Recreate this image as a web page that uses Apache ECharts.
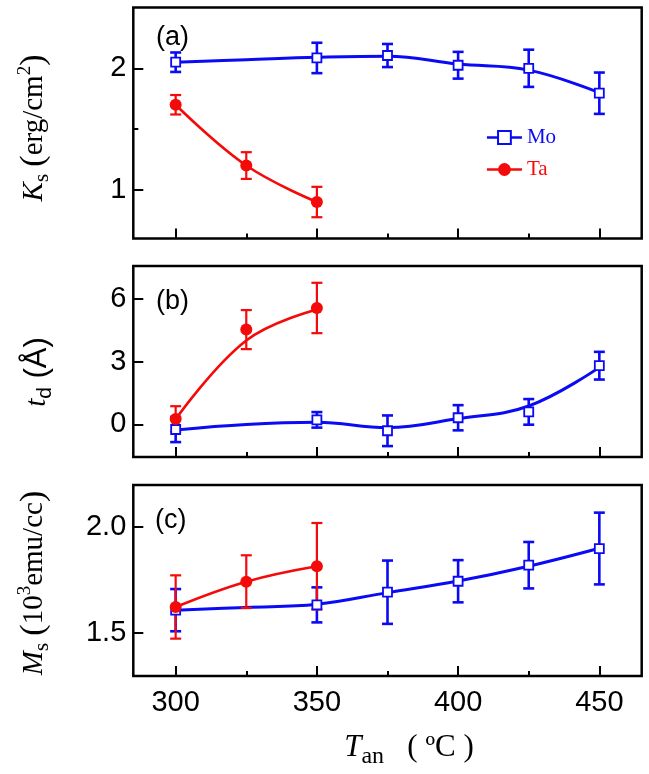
<!DOCTYPE html>
<html><head><meta charset="utf-8">
<script src="https://cdn.jsdelivr.net/npm/echarts@6/dist/echarts.min.js"></script>
<style>html,body{margin:0;padding:0;background:#fff}#c{width:649px;height:774px}</style>
</head><body><div id="c"></div>
<script>
// ---- data ----
const tempsMo = [300, 350, 375, 400, 425, 450];
const tempsTa = [300, 325, 350];
const fitTempsMo = [300, 325, 350, 375, 400, 425, 450];
const fitTempsTa = [300, 325, 350];

const ksMo = [2.05, 2.085, 2.105, 2.025, 2.0, 1.795];
const ksMoErr = [0.08, 0.125, 0.095, 0.11, 0.153, 0.17];
const ksTa = [1.70, 1.20, 0.90];
const ksTaErr = [0.08, 0.11, 0.125];

const tdMo = [-0.24, 0.22, -0.3, 0.32, 0.6, 2.8];
const tdMoErr = [0.6, 0.37, 0.73, 0.6, 0.61, 0.66];
const tdTa = [0.26, 4.52, 5.55];
const tdTaErr = [0.61, 0.93, 1.2];

const msMo = [1.607, 1.632, 1.692, 1.744, 1.82, 1.899];
const msMoErr = [0.1, 0.083, 0.15, 0.1, 0.11, 0.17];
const msTa = [1.622, 1.742, 1.815];
const msTaErr = [0.15, 0.125, 0.205];

const ksMoFit = [2.05, 2.07, 2.09, 2.10, 2.035, 1.985, 1.80];
const ksTaFit = [1.70, 1.20, 0.90];
const tdMoFit = [-0.26, 0.0, 0.1, -0.15, 0.28, 0.88, 2.72];
const tdTaFit = [0.25, 4.0, 5.48];
const msMoFit = [1.607, 1.62, 1.635, 1.69, 1.745, 1.815, 1.9];
const msTaFit = [1.622, 1.742, 1.815];

const xMajorTicks = [300, 350, 400, 450];
const xMinorTicks = [325, 375, 425];
const ksTicks = [1, 2];
const ksMinorTicks = [1.5];
const tdTicks = [0, 3, 6];
const msTicks = [1.5, 2.0];

// ---- styling ----
const BLUE = '#0a0af5';
const RED = '#f50a0a';
const SANS = '"Liberation Sans", Arial, sans-serif';
const SERIF = '"Liberation Serif", "Times New Roman", serif';

const panels = [
  {top: 7.5, height: 231, min: 0.6, max: 2.5, ticks: ksTicks, minor: ksMinorTicks, fmt: v => String(v),
   mo: ksMo, moErr: ksMoErr, ta: ksTa, taErr: ksTaErr, moFit: ksMoFit, taFit: ksTaFit},
  {top: 266, height: 191, min: -1.55, max: 7.55, ticks: tdTicks, minor: [], fmt: v => String(v),
   mo: tdMo, moErr: tdMoErr, ta: tdTa, taErr: tdTaErr, moFit: tdMoFit, taFit: tdTaFit},
  {top: 485, height: 191, min: 1.295, max: 2.2, ticks: msTicks, minor: [], fmt: v => v.toFixed(1),
   mo: msMo, moErr: msMoErr, ta: msTa, taErr: msTaErr, moFit: msMoFit, taFit: msTaFit}
];

const zip = (a, b) => a.map((v, i) => [v, b[i]]);
const zip3 = (a, b, c) => a.map((v, i) => [v, b[i], c[i]]);

function errRender(color, w, lw) {
  return function (params, api) {
    const x = api.value(0), y = api.value(1), e = api.value(2);
    const t = api.coord([x, y + e]), b = api.coord([x, y - e]);
    const st = {stroke: color, lineWidth: lw};
    return {type: 'group', children: [
      {type: 'line', shape: {x1: t[0], y1: t[1], x2: b[0], y2: b[1]}, style: st},
      {type: 'line', shape: {x1: t[0] - w, y1: t[1], x2: t[0] + w, y2: t[1]}, style: st},
      {type: 'line', shape: {x1: b[0] - w, y1: b[1], x2: b[0] + w, y2: b[1]}, style: st}
    ]};
  };
}

const grid = [], xAxis = [], yAxis = [], series = [];
panels.forEach((p, g) => {
  grid.push({left: 133.3, width: 508.4, top: p.top, height: p.height, show: true,
    borderColor: '#000', borderWidth: 2.5, backgroundColor: 'transparent', containLabel: false, outerBoundsMode: 'none'});
  const tickStyle = {color: '#000', width: 2};
  xAxis.push({type: 'value', gridIndex: g, position: 'bottom', min: 285, max: 465,
    axisLine: {show: false, onZero: false}, splitLine: {show: false},
    axisTick: {show: true, inside: true, length: 10, lineStyle: tickStyle, customValues: xMajorTicks},
    axisLabel: {show: g === 2, customValues: xMajorTicks, fontSize: 29, fontFamily: SANS, color: '#000', margin: 12}});
  xAxis.push({type: 'value', gridIndex: g, position: 'bottom', min: 285, max: 465,
    axisLine: {show: false, onZero: false}, splitLine: {show: false},
    axisTick: {show: true, inside: true, length: 5, lineStyle: tickStyle, customValues: xMinorTicks},
    axisLabel: {show: false}});
  yAxis.push({type: 'value', gridIndex: g, position: 'left', min: p.min, max: p.max,
    axisLine: {show: false, onZero: false}, splitLine: {show: false},
    axisTick: {show: true, inside: true, length: 10, lineStyle: tickStyle, customValues: p.ticks},
    axisLabel: {show: true, customValues: p.ticks, formatter: p.fmt, fontSize: 29, fontFamily: SANS, color: '#000', margin: 7}});
  yAxis.push({type: 'value', gridIndex: g, position: 'left', min: p.min, max: p.max,
    axisLine: {show: false, onZero: false}, splitLine: {show: false},
    axisTick: {show: p.minor.length > 0, inside: true, length: 5, lineStyle: tickStyle, customValues: p.minor.length ? p.minor : [p.min]},
    axisLabel: {show: false}});
  const xi = 2 * g, yi = 2 * g;
  series.push({name: 'Mo', type: 'line', xAxisIndex: xi, yAxisIndex: yi, data: zip(fitTempsMo, p.moFit),
    smooth: 0.4, symbol: 'rect', showSymbol: false, silent: true, z: 2,
    lineStyle: {color: BLUE, width: 3}, itemStyle: {color: '#fff', borderColor: BLUE, borderWidth: 2}});
  series.push({name: 'Ta', type: 'line', xAxisIndex: xi, yAxisIndex: yi, data: zip(fitTempsTa, p.taFit),
    smooth: 0.4, symbol: 'circle', showSymbol: false, silent: true, z: 4,
    lineStyle: {color: RED, width: 2.6}, itemStyle: {color: RED}});
  series.push({name: 'Mo', type: 'custom', xAxisIndex: xi, yAxisIndex: yi, data: zip3(tempsMo, p.mo, p.moErr),
    renderItem: errRender(BLUE, 5.5, 2.6), encode: {x: 0, y: 1}, z: 3, silent: true, clip: false});
  series.push({name: 'Ta', type: 'custom', xAxisIndex: xi, yAxisIndex: yi, data: zip3(tempsTa, p.ta, p.taErr),
    renderItem: errRender(RED, 5.5, 2.2), encode: {x: 0, y: 1}, z: 5, silent: true, clip: false});
  series.push({name: 'Mo', type: 'scatter', xAxisIndex: xi, yAxisIndex: yi, data: zip(tempsMo, p.mo),
    symbol: 'rect', symbolSize: 9, z: 6, silent: true,
    itemStyle: {color: '#ffffff', opacity: 1, borderColor: BLUE, borderWidth: 1.8}});
  series.push({name: 'Ta', type: 'scatter', xAxisIndex: xi, yAxisIndex: yi, data: zip(tempsTa, p.ta),
    symbol: 'circle', symbolSize: 12, z: 7, silent: true, itemStyle: {color: RED, opacity: 1}});
});

const richBase = {
  it: {fontFamily: SERIF, fontStyle: 'italic', fontSize: 29, fill: '#000'},
  n: {fontFamily: SERIF, fontSize: 29, fill: '#000'},
  p: {fontFamily: SERIF, fontSize: 34, fill: '#000'},
  sub: {fontFamily: SERIF, fontSize: 21, padding: [16, 0, 0, 0], fill: '#000'},
  sup: {fontFamily: SERIF, fontSize: 19, padding: [0, 0, 18, 0], fill: '#000'},
  s: {fontFamily: SANS, fontSize: 31, fill: '#000'},
  ssub: {fontFamily: SANS, fontSize: 21, padding: [16, 0, 0, 0], fill: '#000'}
};

function rotText(text, x, y) {
  return {type: 'text', x: x, y: y, rotation: Math.PI / 2, silent: true,
    style: {text: text, rich: richBase, align: 'center', verticalAlign: 'middle'}};
}
function label(text, x, y) {
  return {type: 'text', x: x, y: y, silent: true,
    style: {text: text, font: '27px ' + SANS, fill: '#000', align: 'left', verticalAlign: 'middle'}};
}

const graphic = [
  label('(a)', 156, 38),
  label('(b)', 156, 302),
  label('(c)', 155, 521),
  rotText('{it|K}{sub|s}{n| }{p|(}{n|erg/cm}{sup|2}{p|)}', 34, 128),
  rotText('{it|t}{ssub|d}{s| (Å)}', 37, 372),
  rotText('{it|M}{sub|s}{n| }{p|(}{n|10}{sup|3}{n|emu/cc}{p|)}', 34, 583),
  {type: 'text', x: 409, y: 748, silent: true,
    style: {text: '{it|T}{sub|an}{n|   ( ºC )}', rich: {
      it: {fontFamily: SERIF, fontStyle: 'italic', fontSize: 31, fill: '#000'},
      sub: {fontFamily: SERIF, fontSize: 24, padding: [18, 0, 0, 0], fill: '#000'},
      n: {fontFamily: SERIF, fontSize: 31, fill: '#000'}
    }, align: 'center', verticalAlign: 'middle'}}
];

const chart = echarts.init(document.getElementById('c'), null, {renderer: 'canvas'});
chart.setOption({
  animation: false,
  backgroundColor: '#fff',
  grid: grid, xAxis: xAxis, yAxis: yAxis, series: series, graphic: graphic,
  legend: {
    orient: 'vertical', left: 485.7, top: 127, itemWidth: 35, itemHeight: 16, itemGap: 11,
    selectedMode: false, padding: 0,
    textStyle: {fontFamily: SERIF, fontSize: 21},
    data: [
      {name: 'Mo', itemStyle: {color: '#fff', borderColor: BLUE, borderWidth: 2}, lineStyle: {color: BLUE, width: 2.5}, textStyle: {color: BLUE}},
      {name: 'Ta', itemStyle: {color: RED, borderColor: RED, borderWidth: 0}, lineStyle: {color: RED, width: 2.5}, textStyle: {color: RED}}
    ]
  }
});
</script></body></html>
